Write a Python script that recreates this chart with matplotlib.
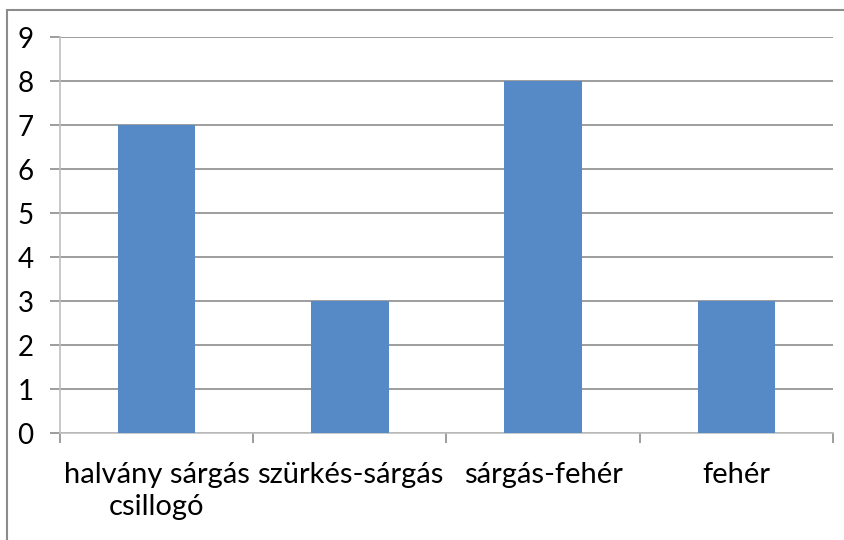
import matplotlib
matplotlib.use("Agg")
import matplotlib.pyplot as plt
from matplotlib.patches import Rectangle

# Data
categories = ["halvány sárgás\ncsillogó", "szürkés-sárgás", "sárgás-fehér", "fehér"]
values = [7, 3, 8, 3]
y_ticks = list(range(0, 10))

plt.rcParams['font.family'] = ['Lato', 'DejaVu Sans']

fig = plt.figure(figsize=(8.45, 5.40), dpi=100)
ax = fig.add_axes([60 / 845, 107 / 540, 773 / 845, 396 / 540])

# outer chart border
fig.patches.append(Rectangle((7 / 845, -0.05), 1.2, (530 / 540) + 0.05,
                             transform=fig.transFigure, fill=False,
                             edgecolor="#8c8c8c", linewidth=1.5))

x = list(range(len(categories)))
ax.bar(x, values, width=0.4, color="#558AC6", zorder=3)

ax.set_xlim(-0.5, len(categories) - 0.5)
ax.set_ylim(0, 9)
ax.set_yticks(y_ticks)
ax.set_yticklabels([str(t) for t in y_ticks], fontsize=20)
ax.yaxis.grid(True, color="#8c8c8c", linewidth=1.2, zorder=0)

# category ticks at boundaries, labels centred
ax.set_xticks([i - 0.5 for i in range(len(categories) + 1)])
ax.set_xticklabels([])
ax.set_xticks(x, minor=True)
ax.set_xticklabels(categories, minor=True, fontsize=21, linespacing=1.3)
ax.tick_params(axis="x", which="minor", length=0, pad=21)
ax.tick_params(axis="x", which="major", length=7, color="#8c8c8c", width=1.2)
ax.tick_params(axis="y", length=7, color="#8c8c8c", width=1.2, pad=12)

for side in ["top", "right"]:
    ax.spines[side].set_visible(False)
ax.spines["left"].set_color("#bfbfbf")
ax.spines["bottom"].set_color("#bfbfbf")
ax.spines["left"].set_linewidth(1.2)
ax.spines["bottom"].set_linewidth(1.2)

fig.savefig("out.png", dpi=100)
